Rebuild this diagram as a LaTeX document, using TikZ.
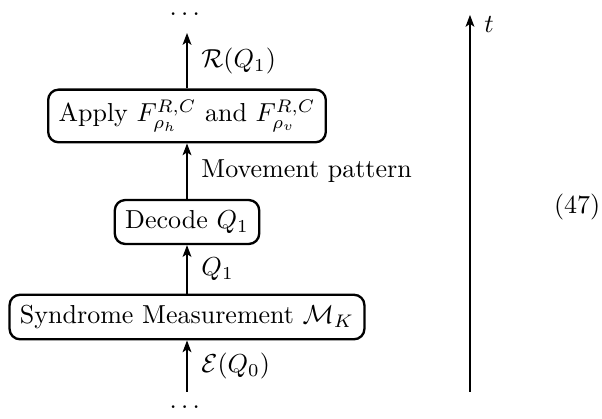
\documentclass[tikz,border=0pt]{standalone}
\usepackage{amsmath,amssymb,amsfonts}
\usepackage{xcolor}
\usepackage{tikz}
\usetikzlibrary{arrows.meta,positioning,calc}

\begin{document}
\begin{tikzpicture}[scale=1,
		stage/.style={draw, rectangle, rounded corners=4pt, line width=0.9pt, inner sep=4pt},
		flow/.style={-{Stealth[length=1.6mm,width=1.2mm,inset=0.4mm]}, line width=0.45pt}]
		\useasboundingbox (0,0) rectangle (8.135,5.662);

		\node[stage] (synd) at (2.527,1.378) {Syndrome Measurement $\mathcal{M}_K$};
		\node[stage] (dec) at (2.527,2.662) {Decode $Q_1$};
		\node[stage] (apply) at (2.527,4.095) {Apply $F^{R,C}_{\rho_h}$ and $F^{R,C}_{\rho_v}$};

		\node[inner sep=1pt] (topdots) at (2.527,5.47) {$\dots$};
		\node[inner sep=1pt] (botdots) at (2.527,0.16) {$\dots$};

		\coordinate (botstart) at (2.527,0.365);
		\coordinate (toptip) at (2.527,5.216);

		\draw[flow] (botstart) -- (synd) node[midway, right=2pt] {$\mathcal{E}(Q_0)$};
		\draw[flow] (synd) -- (dec) node[midway, right=2pt] {$Q_1$};
		\draw[flow] (dec) -- (apply) node[midway, right=2pt] {Movement pattern};
		\draw[flow] (apply) -- (toptip) node[midway, right=2pt] {$\mathcal{R}(Q_1)$};

		% time axis
		\coordinate (tbot) at (6.351,0.365);
		\coordinate (ttop) at (6.351,5.46);
		\draw[flow] (tbot) -- (ttop) node[right=2pt, yshift=-1.3mm] (tlabel) {$t$};

		\node (eqno) at (7.80,2.865) {(47)};
	\end{tikzpicture}
\end{document}
